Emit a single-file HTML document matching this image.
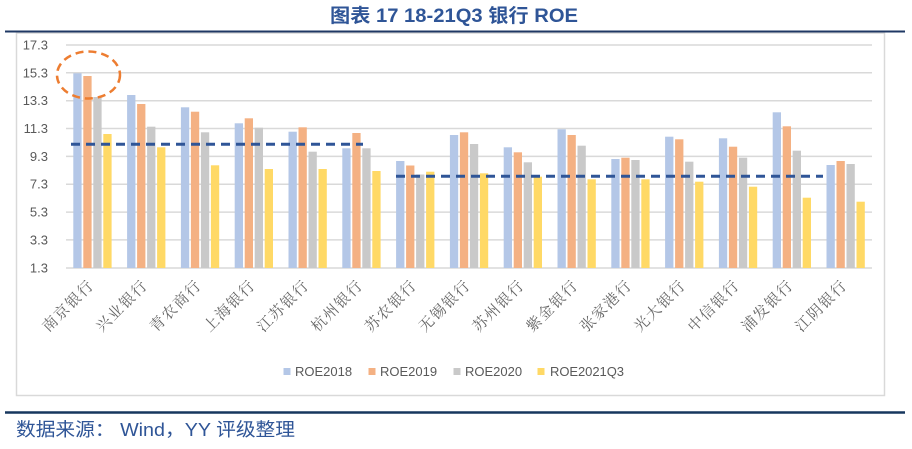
<!DOCTYPE html>
<html>
<head>
<meta charset="utf-8">
<style>
  html,body{margin:0;padding:0;background:#fff;}
  svg{display:block;}
</style>
</head>
<body>
<svg width="912" height="449" viewBox="0 0 912 449" xmlns="http://www.w3.org/2000/svg">
  <rect x="0" y="0" width="912" height="449" fill="#fff"/>
  <!-- title -->
  <text x="454" y="22" text-anchor="middle" font-family="'Liberation Sans','Noto Sans CJK SC',sans-serif" font-weight="bold" font-size="19" fill="#2f5597" textLength="248" lengthAdjust="spacingAndGlyphs">图表 17 18-21Q3 银行 ROE</text>
  <!-- chart frame -->
  <rect x="16.5" y="33" width="868" height="362.5" fill="#fff" stroke="#d9d9d9" stroke-width="1.5"/>
  <!-- top navy line -->
  <line x1="5" y1="31.5" x2="905" y2="31.5" stroke="#1f3864" stroke-width="2"/>
  <!-- gridlines -->
  <g stroke="#d9d9d9" stroke-width="1.5">
    <line x1="66" y1="45" x2="872" y2="45"/>
    <line x1="66" y1="72.8" x2="872" y2="72.8"/>
    <line x1="66" y1="100.7" x2="872" y2="100.7"/>
    <line x1="66" y1="128.5" x2="872" y2="128.5"/>
    <line x1="66" y1="156.4" x2="872" y2="156.4"/>
    <line x1="66" y1="184.2" x2="872" y2="184.2"/>
    <line x1="66" y1="212.1" x2="872" y2="212.1"/>
    <line x1="66" y1="239.9" x2="872" y2="239.9"/>
    <line x1="66" y1="268" x2="872" y2="268"/>
  </g>
  <!-- y labels -->
  <g font-family="'Liberation Sans',sans-serif" font-size="13" fill="#595959" text-anchor="end">
    <text x="48" y="49.5">17.3</text>
    <text x="48" y="77.3">15.3</text>
    <text x="48" y="105.2">13.3</text>
    <text x="48" y="133">11.3</text>
    <text x="48" y="160.9">9.3</text>
    <text x="48" y="188.7">7.3</text>
    <text x="48" y="216.6">5.3</text>
    <text x="48" y="244.4">3.3</text>
    <text x="48" y="272.5">1.3</text>
  </g>
  <!-- bars -->
  <g id="bars">
    <rect x="73.3" y="73.3" width="8.3" height="194.7" fill="#b4c7e7"/>
    <rect x="83.3" y="76" width="8.3" height="192" fill="#f4b183"/>
    <rect x="93.3" y="97" width="8.3" height="171" fill="#c9c9c9"/>
    <rect x="103.3" y="134" width="8.3" height="134" fill="#ffd966"/>
    <rect x="127.1" y="95" width="8.3" height="173" fill="#b4c7e7"/>
    <rect x="137.1" y="104" width="8.3" height="164" fill="#f4b183"/>
    <rect x="147.1" y="126.7" width="8.3" height="141.3" fill="#c9c9c9"/>
    <rect x="157.1" y="147.3" width="8.3" height="120.7" fill="#ffd966"/>
    <rect x="180.9" y="107.3" width="8.3" height="160.7" fill="#b4c7e7"/>
    <rect x="190.9" y="111.7" width="8.3" height="156.3" fill="#f4b183"/>
    <rect x="200.9" y="132.3" width="8.3" height="135.7" fill="#c9c9c9"/>
    <rect x="210.9" y="165.3" width="8.3" height="102.7" fill="#ffd966"/>
    <rect x="234.7" y="123.3" width="8.3" height="144.7" fill="#b4c7e7"/>
    <rect x="244.7" y="118.3" width="8.3" height="149.7" fill="#f4b183"/>
    <rect x="254.7" y="127.7" width="8.3" height="140.3" fill="#c9c9c9"/>
    <rect x="264.7" y="169" width="8.3" height="99" fill="#ffd966"/>
    <rect x="288.5" y="131.7" width="8.3" height="136.3" fill="#b4c7e7"/>
    <rect x="298.5" y="127.3" width="8.3" height="140.7" fill="#f4b183"/>
    <rect x="308.5" y="151.7" width="8.3" height="116.3" fill="#c9c9c9"/>
    <rect x="318.5" y="169" width="8.3" height="99" fill="#ffd966"/>
    <rect x="342.3" y="148.3" width="8.3" height="119.7" fill="#b4c7e7"/>
    <rect x="352.3" y="133" width="8.3" height="135" fill="#f4b183"/>
    <rect x="362.3" y="148.3" width="8.3" height="119.7" fill="#c9c9c9"/>
    <rect x="372.3" y="171" width="8.3" height="97" fill="#ffd966"/>
    <rect x="396.1" y="161" width="8.3" height="107" fill="#b4c7e7"/>
    <rect x="406.1" y="165.5" width="8.3" height="102.5" fill="#f4b183"/>
    <rect x="416.1" y="174.5" width="8.3" height="93.5" fill="#c9c9c9"/>
    <rect x="426.1" y="171.7" width="8.3" height="96.3" fill="#ffd966"/>
    <rect x="449.9" y="135" width="8.3" height="133" fill="#b4c7e7"/>
    <rect x="459.9" y="132.3" width="8.3" height="135.7" fill="#f4b183"/>
    <rect x="469.9" y="144" width="8.3" height="124" fill="#c9c9c9"/>
    <rect x="479.9" y="173.3" width="8.3" height="94.7" fill="#ffd966"/>
    <rect x="503.7" y="147.3" width="8.3" height="120.7" fill="#b4c7e7"/>
    <rect x="513.7" y="152.3" width="8.3" height="115.7" fill="#f4b183"/>
    <rect x="523.7" y="162.3" width="8.3" height="105.7" fill="#c9c9c9"/>
    <rect x="533.7" y="176.7" width="8.3" height="91.3" fill="#ffd966"/>
    <rect x="557.5" y="129.3" width="8.3" height="138.7" fill="#b4c7e7"/>
    <rect x="567.5" y="135" width="8.3" height="133" fill="#f4b183"/>
    <rect x="577.5" y="145.7" width="8.3" height="122.3" fill="#c9c9c9"/>
    <rect x="587.5" y="179.3" width="8.3" height="88.7" fill="#ffd966"/>
    <rect x="611.3" y="159" width="8.3" height="109" fill="#b4c7e7"/>
    <rect x="621.3" y="157.7" width="8.3" height="110.3" fill="#f4b183"/>
    <rect x="631.3" y="160" width="8.3" height="108" fill="#c9c9c9"/>
    <rect x="641.3" y="179.3" width="8.3" height="88.7" fill="#ffd966"/>
    <rect x="665.1" y="136.7" width="8.3" height="131.3" fill="#b4c7e7"/>
    <rect x="675.1" y="139.3" width="8.3" height="128.7" fill="#f4b183"/>
    <rect x="685.1" y="161.7" width="8.3" height="106.3" fill="#c9c9c9"/>
    <rect x="695.1" y="181.7" width="8.3" height="86.3" fill="#ffd966"/>
    <rect x="718.9" y="138.3" width="8.3" height="129.7" fill="#b4c7e7"/>
    <rect x="728.9" y="146.7" width="8.3" height="121.3" fill="#f4b183"/>
    <rect x="738.9" y="157.7" width="8.3" height="110.3" fill="#c9c9c9"/>
    <rect x="748.9" y="186.7" width="8.3" height="81.3" fill="#ffd966"/>
    <rect x="772.7" y="112.3" width="8.3" height="155.7" fill="#b4c7e7"/>
    <rect x="782.7" y="126.3" width="8.3" height="141.7" fill="#f4b183"/>
    <rect x="792.7" y="150.7" width="8.3" height="117.3" fill="#c9c9c9"/>
    <rect x="802.7" y="197.7" width="8.3" height="70.3" fill="#ffd966"/>
    <rect x="826.5" y="165" width="8.3" height="103" fill="#b4c7e7"/>
    <rect x="836.5" y="161" width="8.3" height="107" fill="#f4b183"/>
    <rect x="846.5" y="164" width="8.3" height="104" fill="#c9c9c9"/>
    <rect x="856.5" y="201.7" width="8.3" height="66.3" fill="#ffd966"/>
  </g>
  <!-- dashed average lines -->
  <line x1="71" y1="144.3" x2="363" y2="144.3" stroke="#2f5597" stroke-width="3" stroke-dasharray="9 6"/>
  <line x1="396" y1="176.3" x2="823" y2="176.3" stroke="#2f5597" stroke-width="3" stroke-dasharray="9 6"/>
  <!-- highlight ellipse -->
  <ellipse cx="88.5" cy="75" rx="31.5" ry="23.5" fill="none" stroke="#ed7d31" stroke-width="2.5" stroke-dasharray="8 5"/>
  <!-- x labels -->
  <g font-family="'Liberation Serif','Noto Serif CJK SC',serif" font-size="15" letter-spacing="1.5" fill="#666666" text-anchor="end">
    <text transform="translate(95,286) rotate(-45)">南京银行</text>
    <text transform="translate(148.8,286) rotate(-45)">兴业银行</text>
    <text transform="translate(202.6,286) rotate(-45)">青农商行</text>
    <text transform="translate(256.4,286) rotate(-45)">上海银行</text>
    <text transform="translate(310.2,286) rotate(-45)">江苏银行</text>
    <text transform="translate(364,286) rotate(-45)">杭州银行</text>
    <text transform="translate(417.8,286) rotate(-45)">苏农银行</text>
    <text transform="translate(471.6,286) rotate(-45)">无锡银行</text>
    <text transform="translate(525.4,286) rotate(-45)">苏州银行</text>
    <text transform="translate(579.2,286) rotate(-45)">紫金银行</text>
    <text transform="translate(633,286) rotate(-45)">张家港行</text>
    <text transform="translate(686.8,286) rotate(-45)">光大银行</text>
    <text transform="translate(740.6,286) rotate(-45)">中信银行</text>
    <text transform="translate(794.4,286) rotate(-45)">浦发银行</text>
    <text transform="translate(848.2,286) rotate(-45)">江阴银行</text>
  </g>
  <!-- legend -->
  <g font-family="'Liberation Sans',sans-serif" font-size="13" fill="#595959">
    <rect x="283.5" y="368" width="7" height="7" fill="#b4c7e7"/>
    <text x="295" y="376">ROE2018</text>
    <rect x="368.5" y="368" width="7" height="7" fill="#f4b183"/>
    <text x="380" y="376">ROE2019</text>
    <rect x="453.5" y="368" width="7" height="7" fill="#c9c9c9"/>
    <text x="465" y="376">ROE2020</text>
    <rect x="537.5" y="368" width="7" height="7" fill="#ffd966"/>
    <text x="550" y="376" textLength="74">ROE2021Q3</text>
  </g>
  <!-- bottom navy line -->
  <line x1="5" y1="412.5" x2="905" y2="412.5" stroke="#17375e" stroke-width="2.5"/>
  <!-- footer -->
  <text x="16" y="436" font-family="'Liberation Sans','Noto Sans CJK SC',sans-serif" font-size="18.5" fill="#2f5597" textLength="279" lengthAdjust="spacingAndGlyphs">数据来源：  Wind，YY 评级整理</text>
</svg>
</body>
</html>
